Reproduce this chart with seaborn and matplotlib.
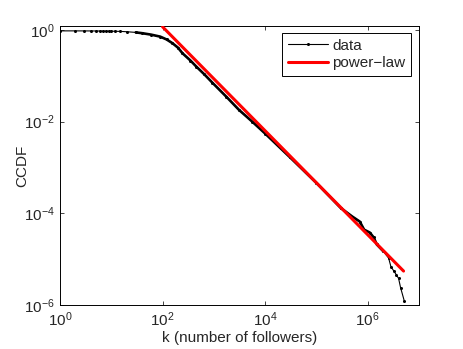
import numpy as np
import pandas as pd
import matplotlib
matplotlib.use("Agg")
import matplotlib.pyplot as plt
import seaborn as sns

# CCDF of follower counts
k_vals = [1, 2, 3, 4, 5, 6, 7, 8, 9, 10, 12, 15, 20, 30, 40, 60, 90, 120, 156,
          200, 244, 350, 457, 650, 935, 1750, 3100, 5600, 1.0e4, 3.0e4, 1.0e5,
          3.0e5, 5.0e5, 7.0e5, 8.5e5, 1.1e6, 1.3e6, 1.5e6, 2.0e6, 2.56e6,
          2.83e6, 3.2e6, 3.6e6, 4.0e6, 4.37e6, 5.15e6]
ccdf_vals = [0.955, 0.955, 0.953, 0.952, 0.950, 0.948, 0.946, 0.944, 0.942,
             0.940, 0.936, 0.930, 0.915, 0.885, 0.850, 0.790, 0.715, 0.620,
             0.514, 0.410, 0.311, 0.215, 0.158, 0.108, 0.0708, 0.035, 0.018,
             0.010, 0.0055, 0.0017, 4.6e-4, 1.3e-4, 8.5e-5, 6.6e-5, 4.4e-5,
             3.8e-5, 3.0e-5, 2.1e-5, 1.5e-5, 1.05e-5, 6.9e-6, 5.6e-6, 4.6e-6,
             3.8e-6, 2.4e-6, 1.24e-6]

# Power-law fit line endpoints
fit_k = [100, 5.0e6]
fit_ccdf = [1.17, 5.5e-6]

legend_labels = ["data", "power\u2212law"]

sns.set_style("ticks")
plt.rcParams["font.family"] = ["Liberation Sans", "DejaVu Sans"]
plt.rcParams["mathtext.default"] = "regular"

df = pd.DataFrame({"k": k_vals, "ccdf": ccdf_vals})
fit = pd.DataFrame({"k": fit_k, "ccdf": fit_ccdf})

fig = plt.figure(figsize=(4.63, 3.49), dpi=100)
ax = fig.add_axes([60 / 463, 1 - 305 / 349, (419 - 60) / 463, (305 - 26) / 349])

# thicker body of the dense data region
mid = df[(df["k"] >= 25) & (df["k"] <= 2.2e6)]
ax.plot(mid["k"], mid["ccdf"], color="black", lw=1.9, solid_capstyle="round",
        solid_joinstyle="round", zorder=2)

sns.lineplot(data=df, x="k", y="ccdf", ax=ax, color="black", lw=0.8,
             marker="o", markersize=2.2, markeredgewidth=0, estimator=None,
             sort=False, label=legend_labels[0], zorder=3)
sns.lineplot(data=fit, x="k", y="ccdf", ax=ax, color="red", lw=2.2,
             estimator=None, sort=False, label=legend_labels[1], zorder=4)

ax.set_xscale("log")
ax.set_yscale("log")
ax.set_xlim(1, 1e7)
ax.set_ylim(1e-6, 1.22)
ax.set_xticks([1, 1e2, 1e4, 1e6])
ax.set_yticks([1e-6, 1e-4, 1e-2, 1])
ax.minorticks_off()
ax.tick_params(which="both", direction="in", length=3, width=0.6,
               top=True, right=True, labelsize=11, pad=4)
for s in ax.spines.values():
    s.set_visible(True)
    s.set_linewidth(0.7)
    s.set_color("black")

ax.set_xlabel("k (number of followers)", fontsize=11, labelpad=1)
ax.set_ylabel("CCDF", fontsize=11)
ax.yaxis.set_label_coords(-0.085, 0.5)

leg = ax.legend(loc="upper right", bbox_to_anchor=(0.985, 0.985), fontsize=11,
                frameon=True, fancybox=False, framealpha=1, edgecolor="black",
                handlelength=2.6, handletextpad=0.3, borderpad=0.35,
                labelspacing=0.25, borderaxespad=0.2)
leg.get_frame().set_linewidth(0.7)

fig.savefig("out.png", dpi=100, facecolor="white")
